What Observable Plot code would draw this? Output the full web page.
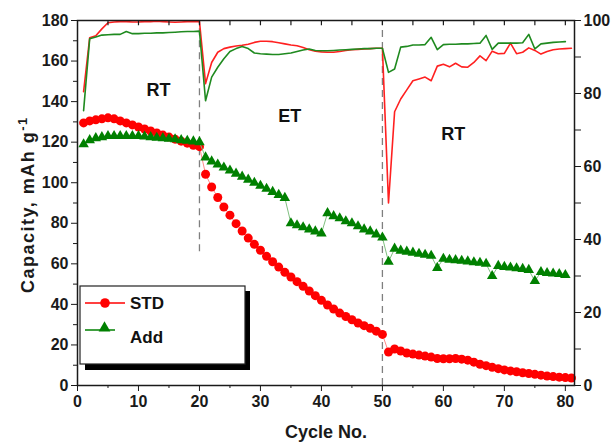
<!DOCTYPE html>
<html><head><meta charset="utf-8">
<script src="https://cdn.jsdelivr.net/npm/d3@7"></script>
<script src="https://cdn.jsdelivr.net/npm/@observablehq/plot@0.6"></script>
<style>
body{margin:0;background:#fff;}
svg{font-family:Arial,"Liberation Sans",sans-serif;}
</style>
</head><body><div id="chart"></div>
<script>
// ---- data ----
const stdCycles = [1,2,3,4,5,6,7,8,9,10,11,12,13,14,15,16,17,18,19,20,21,22,23,24,25,26,27,28,29,30,31,32,33,34,35,36,37,38,39,40,41,42,43,44,45,46,47,48,49,50,51,52,53,54,55,56,57,58,59,60,61,62,63,64,65,66,67,68,69,70,71,72,73,74,75,76,77,78,79,80,81];
const stdCapacity = [129.5,130.5,131,131.5,132,131.5,130.5,129.5,128.5,127.5,126.5,125.5,124.5,123.5,122.5,121.5,120.5,119.5,118.5,117.8,
  104.2,97.9,92.7,88,84,79.8,76.2,72.7,69.6,66.7,63.7,61,58.4,55.8,53.5,51.2,48.9,46.6,44.3,42,39.7,37.7,35.7,34,32.4,30.8,29.5,28.2,26.8,25.2,
  16.5,18,17,16,15.5,15,14.5,14,13.3,13.2,13.2,13.3,13,12.5,11.5,10.5,9.8,9,8.3,7.7,7.2,6.8,6.3,5.9,5.5,5.1,4.7,4.4,4.1,3.9,3.7];
const stdEfficiency = [80.5,95.3,95.8,97.7,99.4,99.6,99.7,99.7,99.6,99.6,99.7,99.7,99.8,99.7,99.6,99.5,99.6,99.7,99.7,99.7,
  82.7,88.5,91.3,92.3,92.7,93,93.2,93.5,94,94.3,94.3,94.2,93.9,93.6,93.3,93.1,92.6,92,91.6,91.4,91.3,91.3,91.5,91.8,92,92.1,92.2,92.3,92.4,92.4,
  50,75,78.5,81,83.5,84,84.5,83.5,87.5,88,87.3,88.3,87.3,87.2,88.5,90.3,89,91.6,90.9,91,93.8,90.9,91.3,92.5,91.8,90.8,91.5,92,92.2,92.3,92.4];

const addCycles = [1,2,3,4,5,6,7,8,9,10,11,12,13,14,15,16,17,18,19,20,21,22,23,24,25,26,27,28,29,30,31,32,33,34,35,36,37,38,39,40,41,42,43,44,45,46,47,48,49,50,51,52,53,54,55,56,57,58,59,60,61,62,63,64,65,66,67,68,69,70,71,72,73,74,75,76,77,78,79,80];
const addCapacity = [119,121,122,122.5,123,123,123,123,123,123,122.8,122.5,122.2,122,121.7,121.4,121,120.7,120.4,120,
  112.5,110.5,109,107.5,106,104.5,103,101.5,100,98.5,97,95.5,94,92.5,80,79,78,77,76,75,85,83.5,82.5,81,80,78.5,77,76,74.5,73,
  61,67.5,66.5,66,65.5,65,64.5,64,58,62.5,62,61.8,61.5,61.2,60.8,60.5,60,54,59,58.5,58.2,57.8,57.5,57,51.5,56,55.5,55.2,55,54.5];
const addEfficiency = [75.3,95,95.5,96,96.1,96.2,96.2,97,96.4,96.4,96.5,96.5,96.6,96.6,96.7,96.8,96.9,97,97,97.1,
  78,84.5,87.2,89.5,91.5,92.3,92.9,92.3,91.1,90.9,90.8,90.7,90.7,90.9,91.1,91.5,91.9,92.2,91.8,91.7,91.7,91.8,91.9,92,92.1,92.2,92.3,92.3,92.4,92.4,
  85.8,86.7,92.7,92.9,93.3,93.3,93.4,95.4,92,93.4,93.5,93.5,93.6,93.6,93.7,93.8,95.9,92.1,93.8,93.8,93.8,93.8,93.9,96.2,92.2,93.6,93.8,94,94.1,94.2];

const seriesNames = ["STD","Add"];
const seriesColors = ["#ff0000","#008000"];

const regionLabels = ["RT","ET","RT"];
const regionLabelCycle = [13.3,34.8,61.6];
const regionLabelCapacity = [145.7,132.8,124];

const dividerCycles = [20,50];
const dividerFrom = [66,0];
const dividerTo = [180,180];

const xTicksMajor = [0,10,20,30,40,50,60,70,80];
const xTicksMinor = [5,15,25,35,45,55,65,75];
const xTicksTop = [5,10,15,20,25,30,35,40,45,50,55,60,65,70,75,80];
const yTicksMajor = [0,20,40,60,80,100,120,140,160,180];
const yTicksMinor = [10,30,50,70,90,110,130,150,170];
const effTicksMajor = [0,20,40,60,80,100];
const effTicksMinor = [10,30,50,70,90];
const effToCap = 1.8; // right axis 0-100 spans left axis 0-180

// ---- build tables ----
const std = stdCycles.map((c,i)=>({cycle:c, cap:stdCapacity[i], eff:stdEfficiency[i]}));
const add = addCycles.map((c,i)=>({cycle:c, cap:addCapacity[i], eff:addEfficiency[i]}));
const regions = regionLabels.map((t,i)=>({text:t, cycle:regionLabelCycle[i], cap:regionLabelCapacity[i]}));
const dividers = dividerCycles.map((c,i)=>({cycle:c, from:dividerFrom[i], to:dividerTo[i]}));

const ink = "#1a1a1a";
const tickFont = {fontSize:16, fontWeight:"bold"};

const plot = Plot.plot({
  width:612, height:443,
  marginLeft:77, marginRight:38, marginTop:20, marginBottom:58,
  x:{domain:[0,81.5], label:null},
  y:{domain:[0,180], label:null},
  style:{fontFamily:'Arial,"Liberation Sans",sans-serif', fontSize:"16px", color:ink, background:"#fff"},
  marks:[
    Plot.ruleX(dividers, {x:"cycle", y1:"from", y2:"to", stroke:"#7f7f7f", strokeWidth:1.3, strokeDasharray:"7,5"}),
    Plot.line(std, {x:"cycle", y:d=>d.eff*effToCap, stroke:"#ff2020", strokeWidth:1.6}),
    Plot.line(add, {x:"cycle", y:d=>d.eff*effToCap, stroke:"#1f8a1f", strokeWidth:1.6}),
    Plot.line(std, {x:"cycle", y:"cap", stroke:"#ff8a8a", strokeWidth:1}),
    Plot.dot(std, {x:"cycle", y:"cap", r:4.5, fill:seriesColors[0], symbol:"circle"}),
    Plot.line(add, {x:"cycle", y:"cap", stroke:"#7fbf7f", strokeWidth:1}),
    Plot.dot(add, {x:"cycle", y:"cap", r:3.9, fill:seriesColors[1], symbol:"triangle"}),
    Plot.text(regions, {x:"cycle", y:"cap", text:"text", fontSize:18, fontWeight:"bold", fill:"#111"}),
    Plot.axisX({ticks:xTicksMajor, tickSize:6, tickPadding:4, label:null, ...tickFont}),
    Plot.axisX({ticks:xTicksMinor, tickSize:3, fill:"none", label:null}),
    Plot.axisY({ticks:yTicksMajor, tickSize:6, tickPadding:3, label:null, ...tickFont}),
    Plot.axisY({ticks:yTicksMinor, tickSize:4, fill:"none", label:null}),
    Plot.axisY({anchor:"right", ticks:effTicksMajor.map(v=>v*effToCap), tickFormat:d=>Math.round(d/effToCap), tickSize:6, tickPadding:3, label:null, ...tickFont}),
    Plot.axisY({anchor:"right", ticks:effTicksMinor.map(v=>v*effToCap), tickSize:6, fill:"none", label:null}),
    Plot.ruleX(xTicksTop, {x:d=>d, y1:180, y2:177.4, stroke:ink, strokeWidth:1.2}),
    Plot.frame({stroke:ink, strokeWidth:1.5})
  ]
});

document.getElementById("chart").appendChild(plot);

// ---- axis titles and legend ----
const svg = d3.select(plot);
const font = 'Arial,"Liberation Sans",sans-serif';

const yTitle = svg.append("text")
  .attr("transform","translate(34,293) rotate(-90)")
  .attr("text-anchor","start")
  .attr("letter-spacing",1.5)
  .attr("font-family",font).attr("font-size",18).attr("font-weight","bold").attr("fill",ink);
yTitle.append("tspan").text("Capacity, mAh g");
yTitle.append("tspan").attr("dy",-7).attr("font-size",13).text("-1");

svg.append("text")
  .attr("x",326).attr("y",438).attr("text-anchor","middle")
  .attr("font-family",font).attr("font-size",18).attr("font-weight","bold").attr("fill",ink)
  .text("Cycle No.");

const lg = svg.append("g").attr("text-anchor","start");
lg.append("rect").attr("x",85).attr("y",291).attr("width",165).attr("height",79).attr("fill","#000");
lg.append("rect").attr("x",80).attr("y",286).attr("width",165).attr("height",78).attr("fill","#fff").attr("stroke","#222").attr("stroke-width",1.2);
// STD entry
lg.append("line").attr("x1",85).attr("x2",125).attr("y1",303).attr("y2",303).attr("stroke",seriesColors[0]).attr("stroke-width",1.5);
lg.append("circle").attr("cx",105).attr("cy",303).attr("r",4.8).attr("fill",seriesColors[0]);
lg.append("text").attr("x",130).attr("y",309).attr("text-anchor","start").attr("font-family",font).attr("font-size",17).attr("font-weight","bold").attr("fill","#111").text(seriesNames[0]);
// Add entry
lg.append("line").attr("x1",85).attr("x2",115).attr("y1",330).attr("y2",330).attr("stroke",seriesColors[1]).attr("stroke-width",1.5);
lg.append("path").attr("d",d3.symbol(d3.symbolTriangle, 60)()).attr("transform","translate(104.5,328)").attr("fill",seriesColors[1]);
lg.append("text").attr("x",130).attr("y",343).attr("text-anchor","start").attr("font-family",font).attr("font-size",17).attr("font-weight","bold").attr("fill","#111").text(seriesNames[1]);
</script>
</body></html>
